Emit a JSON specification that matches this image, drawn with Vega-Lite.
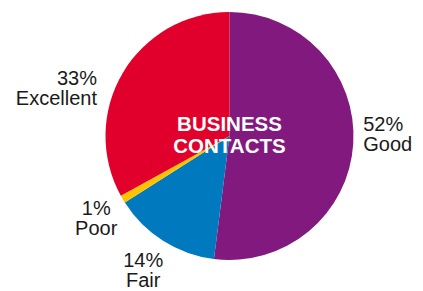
{
  "$schema": "https://vega.github.io/schema/vega-lite/v6.json",
  "autosize": "none",
  "padding": {"left": 36, "top": 0, "right": 0, "bottom": 19},
  "width": 387,
  "height": 272,
  "background": "white",
  "config": {"view": {"stroke": null}},
  "data": {"values": [
    {"cat": "Good", "pct": 52, "idx": 1, "label": "52%\nGood"},
    {"cat": "Fair", "pct": 14, "idx": 2, "label": "14%\nFair"},
    {"cat": "Poor", "pct": 1, "idx": 3, "label": "1%\nPoor"},
    {"cat": "Excellent", "pct": 33, "idx": 4, "label": "33%\nExcellent"}
  ]},
  "encoding": {
    "theta": {"field": "pct", "type": "quantitative", "stack": true},
    "order": {"field": "idx", "type": "quantitative"}
  },
  "layer": [
    {
      "mark": {"type": "arc", "outerRadius": 124},
      "encoding": {
        "color": {"field": "cat", "type": "nominal", "legend": null,
          "scale": {"domain": ["Good", "Fair", "Poor", "Excellent"],
                    "range": ["#82197e", "#0079bf", "#fcc400", "#e1002b"]}}
      }
    },
    {
      "mark": {"type": "text", "radius": 134, "align": "left", "baseline": "middle", "dy": -19, "fontSize": 20, "lineHeight": 20, "lineBreak": "\n", "font": "Liberation Sans", "color": "#1a1a1a"},
      "encoding": {"text": {"condition": {"test": "datum.cat === 'Good'", "field": "label"}, "value": ""}}
    },
    {
      "mark": {"type": "text", "radius": 161, "align": "center", "baseline": "middle", "dy": -11, "fontSize": 20, "lineHeight": 20, "lineBreak": "\n", "font": "Liberation Sans", "color": "#1a1a1a"},
      "encoding": {"text": {"condition": {"test": "datum.cat === 'Fair'", "field": "label"}, "value": ""}}
    },
    {
      "mark": {"type": "text", "radius": 156, "align": "center", "baseline": "middle", "dx": 1, "dy": -6, "fontSize": 20, "lineHeight": 20, "lineBreak": "\n", "font": "Liberation Sans", "color": "#1a1a1a"},
      "encoding": {"text": {"condition": {"test": "datum.cat === 'Poor'", "field": "label"}, "value": ""}}
    },
    {
      "mark": {"type": "text", "radius": 154, "align": "right", "baseline": "middle", "dy": 21, "fontSize": 20, "lineHeight": 20, "lineBreak": "\n", "font": "Liberation Sans", "color": "#1a1a1a"},
      "encoding": {"text": {"condition": {"test": "datum.cat === 'Excellent'", "field": "label"}, "value": ""}}
    },
    {
      "data": {"values": [{"t": "BUSINESS\nCONTACTS"}]},
      "mark": {"type": "text", "align": "center", "baseline": "middle", "dy": -11, "fontSize": 20.5, "fontWeight": "bold", "lineHeight": 22, "lineBreak": "\n", "font": "Liberation Sans", "color": "white"},
      "encoding": {"theta": null, "order": null, "text": {"field": "t", "type": "nominal"}}
    }
  ]
}
